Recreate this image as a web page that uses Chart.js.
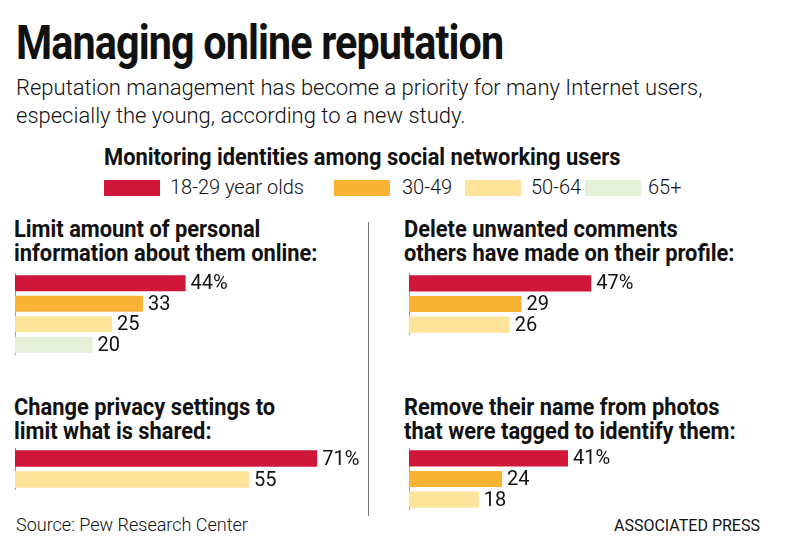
<!DOCTYPE html>
<html><head><meta charset="utf-8">
<script src="https://cdn.jsdelivr.net/npm/chart.js@4"></script>
<style>
body{margin:0;background:#fff;width:788px;height:546px;position:relative;overflow:hidden;font-family:'Roboto',sans-serif;color:#111}
.a{position:absolute}
h1{position:absolute;left:16px;top:14px;margin:0;font-size:48px;font-weight:bold;letter-spacing:-1px;transform:scaleX(0.86);transform-origin:left top;white-space:nowrap}
.sub{left:16px;top:74px;font-size:22px;line-height:28px;font-weight:300}
.hd{font-size:23px;font-weight:bold;line-height:24px;transform:scaleX(0.95);transform-origin:left top;white-space:nowrap}
.lg{top:175px;font-size:20px;font-weight:300}
.sw{position:absolute;top:180px;width:56px;height:16px}
</style></head><body>
<h1>Managing online reputation</h1>
<div class="a sub">Reputation management has become a priority for many Internet users,<br>especially the young, according to a new study.</div>
<div class="a hd" style="left:104px;top:146px">Monitoring identities among social networking users</div>
<div class="sw" style="left:104px;background:#d0173a"></div><div class="a lg" style="left:170px">18-29 year olds</div>
<div class="sw" style="left:334px;background:#f9b233"></div><div class="a lg" style="left:402px">30-49</div>
<div class="sw" style="left:465px;background:#fde49a"></div><div class="a lg" style="left:531px">50-64</div>
<div class="sw" style="left:585px;background:#e4f0d8"></div><div class="a lg" style="left:648px">65+</div>
<div class="a hd" style="left:14px;top:218px">Limit amount of personal<br>information about them online:</div>
<div class="a hd" style="left:404px;top:218px">Delete unwanted comments<br>others have made on their profile:</div>
<div class="a hd" style="left:14px;top:396px">Change privacy settings to<br>limit what is shared:</div>
<div class="a hd" style="left:404px;top:396px">Remove their name from photos<br>that were tagged to identify them:</div>
<div class="a" style="left:368px;top:222px;width:1px;height:294px;background:#777"></div>
<div class="a" style="left:16px;top:514px;font-size:18px;font-weight:300">Source: Pew Research Center</div>
<div class="a" style="left:614px;top:516px;font-size:16px">ASSOCIATED PRESS</div>
<div class="a" style="left:14px;top:273px;width:350px;height:82px"><canvas id="c1"></canvas></div>
<div class="a" style="left:408px;top:273px;width:350px;height:62px"><canvas id="c2"></canvas></div>
<div class="a" style="left:14px;top:448px;width:350px;height:42px"><canvas id="c3"></canvas></div>
<div class="a" style="left:408px;top:448px;width:350px;height:62px"><canvas id="c4"></canvas></div>
<script>
const groups=['18-29','30-49','50-64','65+'];
const colorsAll=['#d0173a','#f9b233','#fde49a','#e4f0d8'];
const limitCats=['18-29','30-49','50-64','65+'];
const limitVals=[44,33,25,20];
const deleteCats=['18-29','30-49','50-64'];
const deleteVals=[47,29,26];
const privacyCats=['18-29','50-64'];
const privacyVals=[71,55];
const removeCats=['18-29','30-49','50-64'];
const removeVals=[41,24,18];
const lbl={id:'lbl',afterDatasetsDraw(ch){const c=ch.ctx;const m=ch.getDatasetMeta(0);c.save();c.font='400 20px Roboto, sans-serif';c.fillStyle='#111';c.textBaseline='middle';
m.data.forEach((b,i)=>{const v=ch.data.datasets[0].data[i];c.fillText(v+(i===0?'%':''),b.x+5,b.y+1);});c.restore();}};
function mk(id,cats,vals,max){
 new Chart(document.getElementById(id),{type:'bar',data:{labels:cats,datasets:[{data:vals,backgroundColor:cats.map(c=>colorsAll[groups.indexOf(c)]),categoryPercentage:1,barPercentage:0.78}]},
 options:{indexAxis:'y',responsive:true,maintainAspectRatio:false,animation:false,layout:{padding:0},plugins:{legend:{display:false},tooltip:{enabled:false}},
 scales:{x:{display:false,min:0,max:max},y:{grid:{display:false},ticks:{display:false},border:{display:true,color:'#999',width:1},afterFit(s){s.width=1;}}}},plugins:[lbl]});
}
mk('c1',limitCats,limitVals,90);
mk('c2',deleteCats,deleteVals,90);
mk('c3',privacyCats,privacyVals,82);
mk('c4',removeCats,removeVals,90);
</script></body></html>
